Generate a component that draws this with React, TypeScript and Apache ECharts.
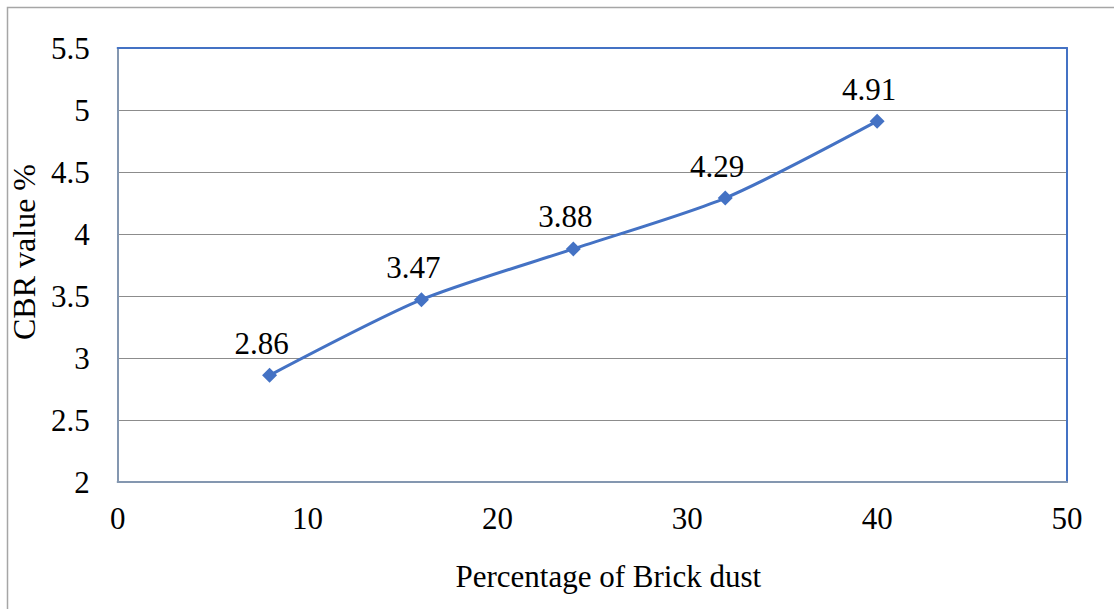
import React, { useEffect, useRef } from "react";
import * as echarts from "echarts";

const brickDust = [8, 16, 24, 32, 40];
const cbrValues = [2.86, 3.47, 3.88, 4.29, 4.91];
const xTicks = { min: 0, max: 50, interval: 10 };
const yTicks = { min: 2, max: 5.5, interval: 0.5 };

export default function App() {
  const ref = useRef<HTMLDivElement>(null);
  useEffect(() => {
    if (!ref.current) return;
    const chart = echarts.init(ref.current, null, { renderer: "svg" });
    const font = "Liberation Serif";
    chart.setOption({
      animation: false,
      backgroundColor: "#ffffff",
      textStyle: { fontFamily: font },
      grid: { left: 116, right: 47, top: 48, bottom: 127, containLabel: false },
      graphic: [
        {
          type: "rect",
          shape: { x: 7.5, y: 7.5, width: 1120, height: 620 },
          style: { fill: "none", stroke: "#a6a6a6", lineWidth: 1.5 },
          silent: true,
        },
      ],
      xAxis: [
        {
          type: "value",
          min: xTicks.min,
          max: xTicks.max,
          interval: xTicks.interval,
          name: "Percentage of Brick dust",
          nameLocation: "middle",
          nameGap: 79,
          nameTextStyle: { fontSize: 31, color: "#000", fontFamily: font, padding: [0, 0, 0, 32] },
          axisLine: { show: true, lineStyle: { color: "#8497b0", width: 2 } },
          axisTick: { show: false },
          splitLine: { show: false },
          axisLabel: { fontSize: 31, color: "#000", margin: 21, fontFamily: font },
        },
        {
          type: "value",
          position: "top",
          min: xTicks.min,
          max: xTicks.max,
          axisLine: { show: true, onZero: false, lineStyle: { color: "#4472c4", width: 2 } },
          axisTick: { show: false },
          axisLabel: { show: false },
          splitLine: { show: false },
        },
      ],
      yAxis: [
        {
          type: "value",
          min: yTicks.min,
          max: yTicks.max,
          interval: yTicks.interval,
          name: "CBR value %",
          nameLocation: "middle",
          nameGap: 63,
          nameRotate: 90,
          nameTextStyle: { fontSize: 32, color: "#000", fontFamily: font, padding: [0, 0, 0, 26] },
          axisLine: { show: true, lineStyle: { color: "#8497b0", width: 2 } },
          axisTick: { show: false },
          splitLine: { show: true, lineStyle: { color: "#8c8c8c", width: 1 } },
          axisLabel: {
            fontSize: 31,
            color: "#000",
            margin: 28,
            fontFamily: font,
            formatter: (v: number) => String(v),
          },
        },
        {
          type: "value",
          position: "right",
          min: yTicks.min,
          max: yTicks.max,
          axisLine: { show: true, onZero: false, lineStyle: { color: "#4472c4", width: 2 } },
          axisTick: { show: false },
          axisLabel: { show: false },
          splitLine: { show: false },
        },
      ],
      series: [
        {
          type: "line",
          data: brickDust.map((x, i) => [x, cbrValues[i]]),
          smooth: 0.25,
          symbol: "diamond",
          symbolSize: 15,
          itemStyle: { color: "#4472c4" },
          lineStyle: { color: "#4472c4", width: 3 },
          label: {
            show: true,
            position: "top",
            distance: 9,
            offset: [-8, 0],
            fontSize: 31,
            color: "#000",
            fontFamily: font,
            formatter: (p: any) => String(p.value[1]),
          },
          z: 5,
        },
      ],
    });
    return () => chart.dispose();
  }, []);
  return (
    <div
      ref={ref}
      style={{ position: "absolute", left: 0, top: 0, width: 1114, height: 609 }}
    />
  );
}
